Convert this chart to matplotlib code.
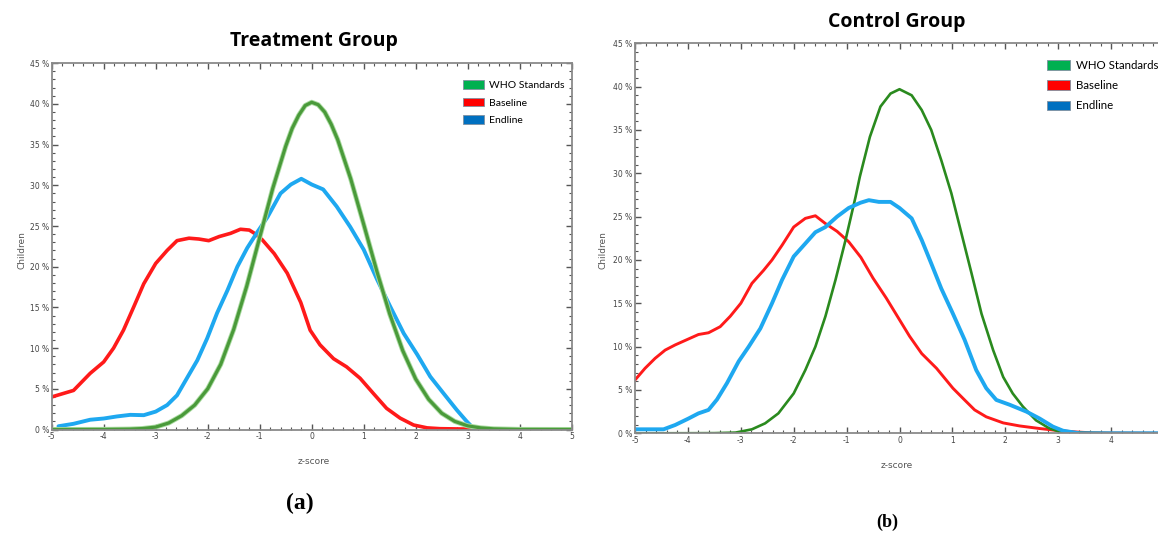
import numpy as np
import matplotlib
matplotlib.use("Agg")
import matplotlib.pyplot as plt
from matplotlib.patches import Patch
from matplotlib.ticker import MultipleLocator, FuncFormatter

# z-score positions and % of children
trt_who_z = [-5, -4, -3.5, -3.25, -3, -2.75, -2.5, -2.25, -2, -1.75, -1.5, -1.25, -1, -0.75,
             -0.5, -0.375, -0.25, -0.125, 0, 0.125, 0.25, 0.375, 0.5, 0.75, 1, 1.25, 1.5,
             1.75, 2, 2.25, 2.5, 2.75, 3, 3.25, 3.5, 4, 5]
trt_who_pct = [0, 0.01, 0.05, 0.12, 0.3, 0.8, 1.7, 3.0, 5.0, 8.0, 12.3, 17.6, 23.6, 29.6,
               34.8, 37.0, 38.6, 39.8, 40.2, 39.9, 39.0, 37.5, 35.6, 30.8, 25.2, 19.5, 14.2,
               9.7, 6.2, 3.7, 2.0, 1.0, 0.45, 0.2, 0.08, 0.01, 0]

trt_base_z = [-5, -4.58, -4.26, -4.0, -3.81, -3.62, -3.42, -3.23, -3.0, -2.78, -2.59, -2.36,
              -2.17, -1.98, -1.78, -1.56, -1.37, -1.2, -1.1, -0.95, -0.72, -0.47, -0.21,
              -0.03, 0.16, 0.42, 0.67, 0.93, 1.19, 1.44, 1.70, 1.96, 2.22, 2.47, 3.0, 4.0, 5.0]
trt_base_pct = [4.0, 4.8, 6.9, 8.3, 10.0, 12.2, 15.1, 17.9, 20.4, 22.0, 23.2, 23.5,
                23.4, 23.2, 23.7, 24.1, 24.6, 24.5, 24.1, 23.3, 21.6, 19.2, 15.6,
                12.2, 10.4, 8.7, 7.7, 6.3, 4.4, 2.6, 1.4, 0.55, 0.2, 0.1, 0.05, 0.02, 0]

trt_end_z = [-4.87, -4.58, -4.26, -4.0, -3.75, -3.49, -3.23, -3.0, -2.78, -2.59, -2.40, -2.20,
             -2.01, -1.82, -1.62, -1.43, -1.24, -1.04, -0.85, -0.6, -0.4, -0.2, 0.0, 0.22,
             0.48, 0.74, 1.0, 1.26, 1.51, 1.77, 2.03, 2.28, 2.54, 2.79, 2.98, 3.11]
trt_end_pct = [0.4, 0.7, 1.2, 1.35, 1.6, 1.8, 1.76, 2.2, 3.0, 4.2, 6.3, 8.5,
               11.2, 14.3, 17.1, 20.0, 22.3, 24.3, 26.1, 29.0, 30.1, 30.8, 30.1, 29.5,
               27.4, 24.9, 22.1, 18.4, 15.1, 11.8, 9.2, 6.5, 4.4, 2.4, 1.0, 0.15]

ctl_who_z = [-5, -4, -3.5, -3.1, -2.79, -2.54, -2.29, -2.0, -1.78, -1.59, -1.40, -1.21, -1.02,
             -0.83, -0.75, -0.56, -0.36, -0.17, 0.0, 0.23, 0.42, 0.60, 0.79, 0.98, 1.17, 1.36,
             1.55, 1.77, 1.96, 2.14, 2.33, 2.58, 2.83, 3.02, 3.5, 4, 5]
ctl_who_pct = [0, 0.01, 0.02, 0.08, 0.46, 1.15, 2.3, 4.6, 7.3, 10.0, 13.5, 17.7, 22.3,
               27.3, 29.6, 34.2, 37.7, 39.2, 39.7, 39.0, 37.3, 35.0, 31.5, 27.7, 23.1, 18.5,
               13.8, 9.6, 6.5, 4.6, 3.1, 1.5, 0.58, 0.2, 0.05, 0.01, 0]

ctl_base_z = [-5, -4.81, -4.62, -4.43, -4.24, -4.02, -3.80, -3.61, -3.39, -3.20, -3.0, -2.79,
              -2.57, -2.41, -2.22, -2.0, -1.78, -1.59, -1.40, -1.18, -0.96, -0.73, -0.50,
              -0.25, 0.0, 0.19, 0.42, 0.70, 1.01, 1.23, 1.42, 1.64, 1.96, 2.27, 2.65, 3.02,
              3.34, 3.65, 4.0, 5.0]
ctl_base_pct = [6.15, 7.5, 8.65, 9.6, 10.2, 10.8, 11.4, 11.6, 12.3, 13.5, 15.0, 17.3,
                18.8, 20.0, 21.7, 23.8, 24.8, 25.1, 24.2, 23.3, 22.1, 20.3, 17.9,
                15.6, 13.1, 11.2, 9.2, 7.5, 5.2, 3.85, 2.7, 1.9, 1.2, 0.85, 0.55, 0.3,
                0.15, 0.05, 0.02, 0]

ctl_end_z = [-5, -4.46, -4.24, -3.99, -3.80, -3.61, -3.45, -3.26, -3.04, -2.85, -2.63, -2.41,
             -2.22, -2.0, -1.78, -1.59, -1.40, -1.18, -0.96, -0.74, -0.58, -0.39, -0.17, 0.0,
             0.23, 0.42, 0.60, 0.79, 1.01, 1.23, 1.45, 1.64, 1.83, 2.08, 2.40, 2.65, 2.90,
             3.09, 3.40, 4.0, 5.0]
ctl_end_pct = [0.46, 0.46, 0.96, 1.7, 2.3, 2.7, 3.9, 5.8, 8.3, 10.0, 12.1, 15.0,
               17.7, 20.4, 21.9, 23.2, 23.8, 25.0, 26.0, 26.6, 26.9, 26.7, 26.7, 26.0,
               24.8, 22.3, 19.6, 16.7, 13.8, 10.8, 7.3, 5.2, 3.85, 3.3, 2.5, 1.7, 0.77,
               0.3, 0.0, 0.0, 0.0]

series_names = ["WHO Standards", "Baseline", "Endline"]
legend_colors = ["#00b050", "#ff0000", "#0070c0"]

W, H = 1158, 536
fig = plt.figure(figsize=(W / 100, H / 100), dpi=100)


def px(x, y):
    return x / W, 1 - y / H


def setup_axes(x0, x1, ytop, ybot, xticks):
    ax = fig.add_axes([x0 / W, 1 - ybot / H, (x1 - x0) / W, (ybot - ytop) / H])
    ax.set_xlim(-5, 5)
    ax.set_ylim(0, 45)
    ax.set_xticks(xticks)
    ax.xaxis.set_minor_locator(MultipleLocator(0.2))
    ax.yaxis.set_major_locator(MultipleLocator(5))
    ax.yaxis.set_minor_locator(MultipleLocator(1))
    ax.yaxis.set_major_formatter(FuncFormatter(lambda v, p: f"{int(v)} %"))
    ax.xaxis.set_major_formatter(FuncFormatter(lambda v, p: f"{int(v)}"))
    ax.tick_params(which="both", direction="in", top=True, right=True, colors="#555555",
                   labelsize=5.5, labelcolor="#444444", pad=2)
    ax.tick_params(which="major", length=4, width=1)
    ax.tick_params(which="minor", length=2, width=0.8)
    for s in ax.spines.values():
        s.set_color("#8a8a8a")
        s.set_linewidth(1.3)
    return ax


def add_legend(ax, x, y, fs, spacing):
    handles = [Patch(facecolor=c, edgecolor="#8090a0", linewidth=0.6) for c in legend_colors]
    fx, fy = px(x, y)
    ax.legend(handles, series_names, loc="upper left", bbox_to_anchor=(fx, fy),
              bbox_transform=fig.transFigure, frameon=False,
              prop={"family": "Lato", "size": fs},
              handlelength=2.0, handleheight=0.9, handletextpad=0.5,
              labelspacing=spacing, borderpad=0, borderaxespad=0)


# Treatment panel
ax1 = setup_axes(51.7, 571.7, 63.2, 429.5, range(-5, 6))
ax1.plot(trt_base_z, trt_base_pct, color="#ff1a1a", lw=2.6, solid_capstyle="round")
ax1.plot(trt_end_z, trt_end_pct, color="#1ea8f0", lw=2.8, solid_capstyle="round")
ax1.plot(trt_who_z, trt_who_pct, color="#a9dba0", lw=3.6)
ax1.plot(trt_who_z, trt_who_pct, color="#4a9a3a", lw=2.3)
add_legend(ax1, 463, 80, 7.5, 0.75)

# Control panel (its right edge falls just outside the picture)
ax2 = setup_axes(635, 1164, 43.3, 433.3, range(-5, 5))
ax2.plot(ctl_base_z, ctl_base_pct, color="#ff1a1a", lw=2.1)
ax2.plot(ctl_who_z, ctl_who_pct, color="#2a8a1e", lw=1.9)
ax2.plot(ctl_end_z, ctl_end_pct, color="#1ea8f0", lw=2.8)
add_legend(ax2, 1047, 60, 8.3, 0.8)

for ax, xl, yl in [(ax1, (314, 461), (22, 250)), (ax2, (897, 466), (603, 250))]:
    fig.text(*px(*xl), "z-score", ha="center", va="center", fontsize=6.5, color="#555555")
    fig.text(*px(*yl), "Children", ha="center", va="center", rotation=90,
             fontsize=6.5, color="#555555")

fig.text(*px(314, 41), "Treatment Group", ha="center", va="center", fontsize=14,
         fontweight="bold", family="Open Sans")
fig.text(*px(897, 22), "Control Group", ha="center", va="center", fontsize=14,
         fontweight="bold", family="Open Sans")
fig.text(*px(300, 503), "(a)", ha="center", va="center", fontsize=17,
         fontweight="bold", family="Liberation Serif")
fig.text(*px(887, 522), "(b)", ha="center", va="center", fontsize=13,
         fontweight="bold", family="Liberation Serif")

fig.savefig("out.png", dpi=100)
